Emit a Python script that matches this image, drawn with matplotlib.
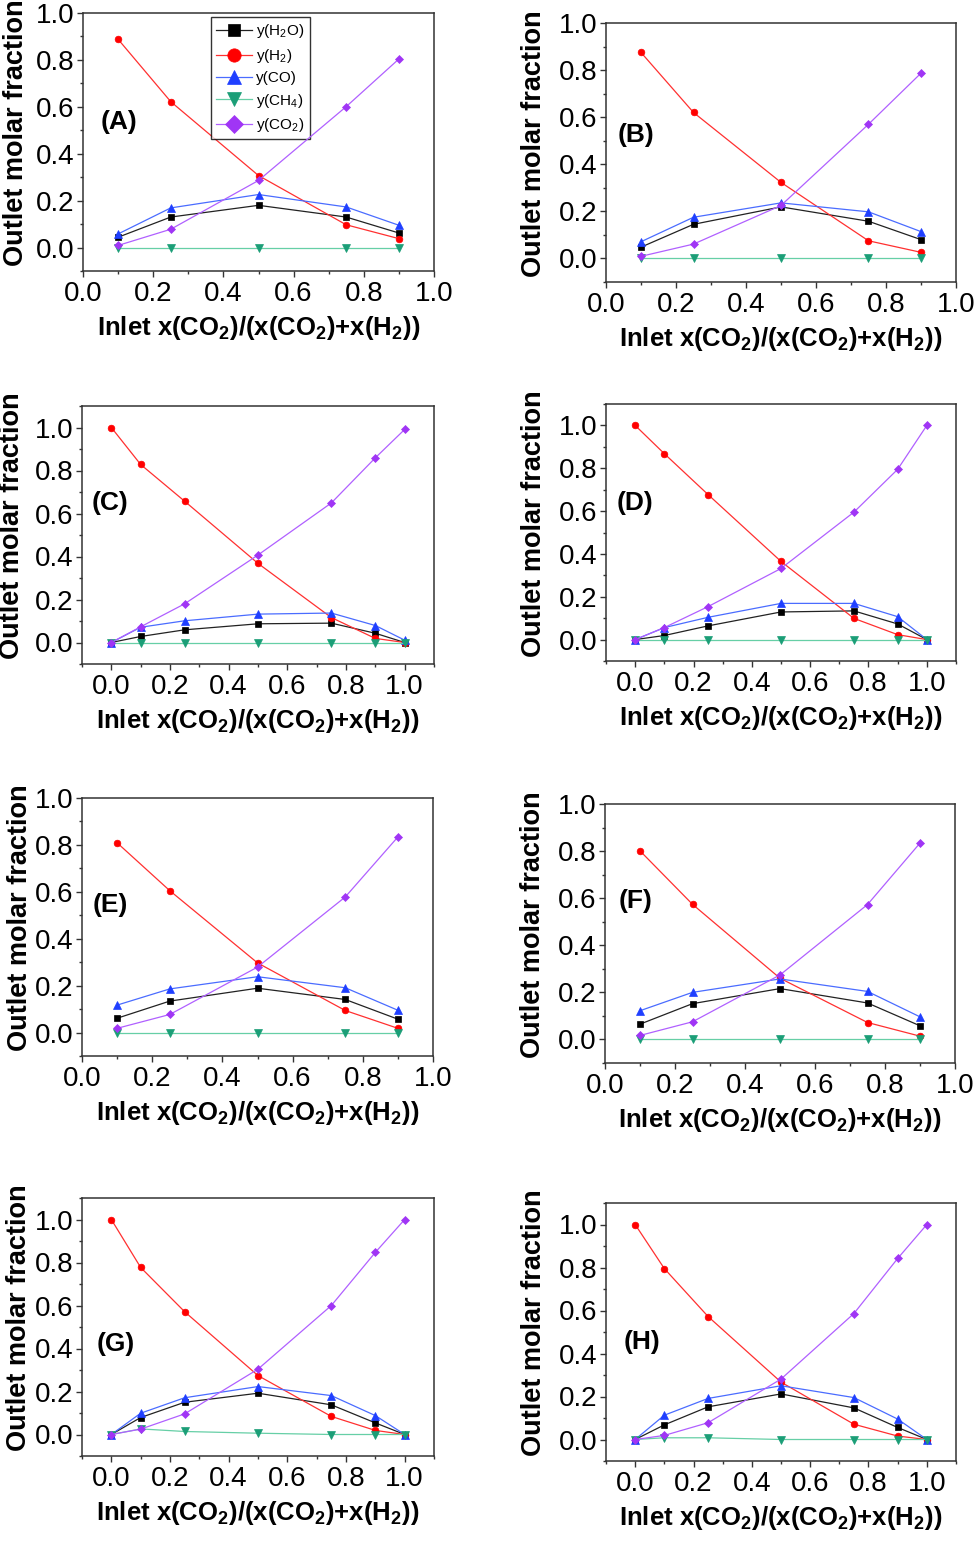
import matplotlib
matplotlib.use('Agg')
import matplotlib.pyplot as plt
from matplotlib.ticker import FixedLocator, FormatStrFormatter

plt.rcParams['font.family'] = ['Liberation Sans', 'DejaVu Sans']
plt.rcParams['mathtext.fontset'] = 'custom'
plt.rcParams['mathtext.rm'] = 'Liberation Sans'
plt.rcParams['mathtext.it'] = 'Liberation Sans:italic'
plt.rcParams['mathtext.bf'] = 'Liberation Sans:bold'

# ---------------- data ----------------
x_five = [0.1, 0.25, 0.5, 0.75, 0.9]
x_seven = [0.0, 0.1, 0.25, 0.5, 0.75, 0.9, 1.0]

a_h2o = [0.044, 0.130, 0.180, 0.130, 0.062]
a_h2 = [0.888, 0.622, 0.307, 0.097, 0.038]
a_co = [0.058, 0.169, 0.226, 0.173, 0.095]
a_ch4 = [0.0, 0.0, 0.0, 0.0, 0.0]
a_co2 = [0.009, 0.078, 0.286, 0.601, 0.804]

b_h2o = [0.048, 0.145, 0.219, 0.158, 0.080]
b_h2 = [0.875, 0.620, 0.323, 0.075, 0.026]
b_co = [0.071, 0.175, 0.236, 0.198, 0.114]
b_ch4 = [0.0, 0.0, 0.0, 0.0, 0.0]
b_co2 = [0.009, 0.061, 0.225, 0.570, 0.787]

c_h2o = [0.0, 0.028, 0.059, 0.087, 0.090, 0.043, 0.0]
c_h2 = [1.0, 0.828, 0.657, 0.368, 0.116, 0.019, 0.0]
c_co = [0.0, 0.071, 0.101, 0.132, 0.137, 0.079, 0.011]
c_ch4 = [0.0, 0.0, 0.0, 0.0, 0.0, 0.0, 0.0]
c_co2 = [0.0, 0.073, 0.180, 0.407, 0.649, 0.859, 0.991]

d_h2o = [0.0, 0.019, 0.064, 0.129, 0.134, 0.073, 0.0]
d_h2 = [1.0, 0.868, 0.677, 0.365, 0.099, 0.023, 0.0]
d_co = [0.0, 0.056, 0.104, 0.169, 0.169, 0.107, 0.0]
d_ch4 = [0.0, 0.0, 0.0, 0.0, 0.0, 0.0, 0.0]
d_co2 = [0.0, 0.056, 0.154, 0.332, 0.595, 0.795, 1.0]

e_h2o = [0.061, 0.134, 0.189, 0.141, 0.057]
e_h2 = [0.809, 0.605, 0.297, 0.094, 0.018]
e_co = [0.117, 0.186, 0.238, 0.191, 0.095]
e_ch4 = [0.0, 0.0, 0.0, 0.0, 0.0]
e_co2 = [0.018, 0.077, 0.279, 0.578, 0.834]

f_h2o = [0.065, 0.152, 0.216, 0.155, 0.058]
f_h2 = [0.801, 0.574, 0.260, 0.072, 0.014]
f_co = [0.122, 0.200, 0.257, 0.204, 0.096]
f_ch4 = [0.0, 0.0, 0.0, 0.0, 0.0]
f_co2 = [0.017, 0.075, 0.274, 0.573, 0.834]

g_h2o = [0.0, 0.079, 0.150, 0.192, 0.138, 0.054, 0.0]
g_h2 = [1.0, 0.777, 0.571, 0.274, 0.084, 0.019, 0.0]
g_co = [0.0, 0.099, 0.171, 0.223, 0.181, 0.088, 0.0]
g_ch4 = [0.0, 0.026, 0.014, 0.006, 0.0, 0.0, 0.0]
g_co2 = [0.0, 0.025, 0.096, 0.304, 0.600, 0.847, 1.0]

h_h2o = [0.0, 0.068, 0.152, 0.212, 0.147, 0.056, 0.0]
h_h2 = [1.0, 0.795, 0.572, 0.267, 0.071, 0.016, 0.0]
h_co = [0.0, 0.113, 0.191, 0.250, 0.195, 0.095, 0.0]
h_ch4 = [0.0, 0.008, 0.008, 0.0, 0.0, 0.0, 0.0]
h_co2 = [0.0, 0.019, 0.078, 0.281, 0.586, 0.842, 1.0]

series_labels = ['y(H$_2$O)', 'y(H$_2$)', 'y(CO)', 'y(CH$_4$)', 'y(CO$_2$)']
panel_letters = ['(A)', '(B)', '(C)', '(D)', '(E)', '(F)', '(G)', '(H)']
tick_values = [0.0, 0.2, 0.4, 0.6, 0.8, 1.0]

panels = [
    (x_five, [a_h2o, a_h2, a_co, a_ch4, a_co2]),
    (x_five, [b_h2o, b_h2, b_co, b_ch4, b_co2]),
    (x_seven, [c_h2o, c_h2, c_co, c_ch4, c_co2]),
    (x_seven, [d_h2o, d_h2, d_co, d_ch4, d_co2]),
    (x_five, [e_h2o, e_h2, e_co, e_ch4, e_co2]),
    (x_five, [f_h2o, f_h2, f_co, f_ch4, f_co2]),
    (x_seven, [g_h2o, g_h2, g_co, g_ch4, g_co2]),
    (x_seven, [h_h2o, h_h2, h_co, h_ch4, h_co2]),
]

# ---------------- style ----------------
W, H = 975, 1541
# (left, right, top, bottom) in pixels
boxes = [
    (83, 434, 13, 271),
    (606, 956, 23, 282),
    (82, 434, 406, 664),
    (606, 956, 404, 661),
    (82, 433, 798, 1056),
    (605, 955, 804, 1063),
    (82, 434, 1198, 1456),
    (606, 956, 1203, 1461),
]
label_pos = [(0.103, 0.578), (0.086, 0.568), (0.08, 0.624), (0.083, 0.615),
             (0.08, 0.585), (0.086, 0.625), (0.097, 0.434), (0.103, 0.461)]
ylabel_x = [-0.19, -0.205, -0.198, -0.205, -0.178, -0.207, -0.178, -0.205]

marker_styles = ['s', 'o', '^', 'v', 'D']
marker_colors = ['#000000', '#ff0000', '#1f3fff', '#1b9e77', '#a035f5']
line_colors = ['#222222', '#ff3030', '#4a6cff', '#66cfa6', '#b060ff']
marker_sizes = [4.2, 4.8, 5.2, 5.2, 4.4]

fig = plt.figure(figsize=(W / 100, H / 100), dpi=100)

for i, ((xs, ys), box) in enumerate(zip(panels, boxes)):
    l, r, t, b = box
    ax = fig.add_axes([l / W, 1 - b / H, (r - l) / W, (b - t) / H])
    wide = len(xs) == 7
    for k in range(5):
        ax.plot(xs, ys[k], color=line_colors[k], lw=0.9, marker=marker_styles[k],
                ms=marker_sizes[k], mfc=marker_colors[k], mec=marker_colors[k],
                mew=0.5, label=series_labels[k], zorder=2 + k)
    if wide:
        ax.set_xlim(-0.1, 1.1)
        ax.set_ylim(-0.1, 1.1)
        minors = [round(-0.1 + 0.1 * j, 1) for j in range(13)]
    else:
        ax.set_xlim(0.0, 1.0)
        ax.set_ylim(-0.1, 1.0)
        minors = [round(0.1 * j, 1) for j in range(11)]
    yminors = [round(-0.1 + 0.1 * j, 1) for j in range(13 if wide else 12)]
    ax.xaxis.set_major_locator(FixedLocator(tick_values))
    ax.yaxis.set_major_locator(FixedLocator(tick_values))
    ax.xaxis.set_minor_locator(FixedLocator(minors))
    ax.yaxis.set_minor_locator(FixedLocator(yminors))
    ax.xaxis.set_major_formatter(FormatStrFormatter('%.1f'))
    ax.yaxis.set_major_formatter(FormatStrFormatter('%.1f'))
    ax.tick_params(which='both', direction='out', top=False, right=False,
                   width=1.0, color='#333333', labelsize=20)
    ax.tick_params(which='major', length=4.5)
    ax.tick_params(which='minor', length=2.5)
    ax.tick_params(axis='x', which='major', pad=3)
    ax.tick_params(axis='y', which='major', pad=1.5)
    for sp in ax.spines.values():
        sp.set_linewidth(1.1)
        sp.set_color('#333333')
    ax.set_xlabel(r'Inlet x(CO$_\mathbf{2}$)/(x(CO$_\mathbf{2}$)+x(H$_\mathbf{2}$))',
                  fontsize=18.5, fontweight='bold', va='center')
    ax.xaxis.set_label_coords(0.5, -0.22)
    ax.set_ylabel('Outlet molar fraction', fontsize=19.5, fontweight='bold', va='center')
    ax.yaxis.set_label_coords(ylabel_x[i], 0.535)
    ax.text(label_pos[i][0], label_pos[i][1], panel_letters[i], transform=ax.transAxes,
            fontsize=19, fontweight='bold', ha='center', va='center')
    if i == 0:
        leg = ax.legend(loc='upper left', bbox_to_anchor=(0.365, 0.984), borderaxespad=0,
                        fontsize=11, markerscale=2.0, handlelength=2.3, handletextpad=0.3,
                        labelspacing=0.42, borderpad=0.35, fancybox=False, frameon=True)
        leg.get_frame().set_edgecolor('#000000')
        leg.get_frame().set_linewidth(1.0)

fig.savefig('out.png', dpi=100)
